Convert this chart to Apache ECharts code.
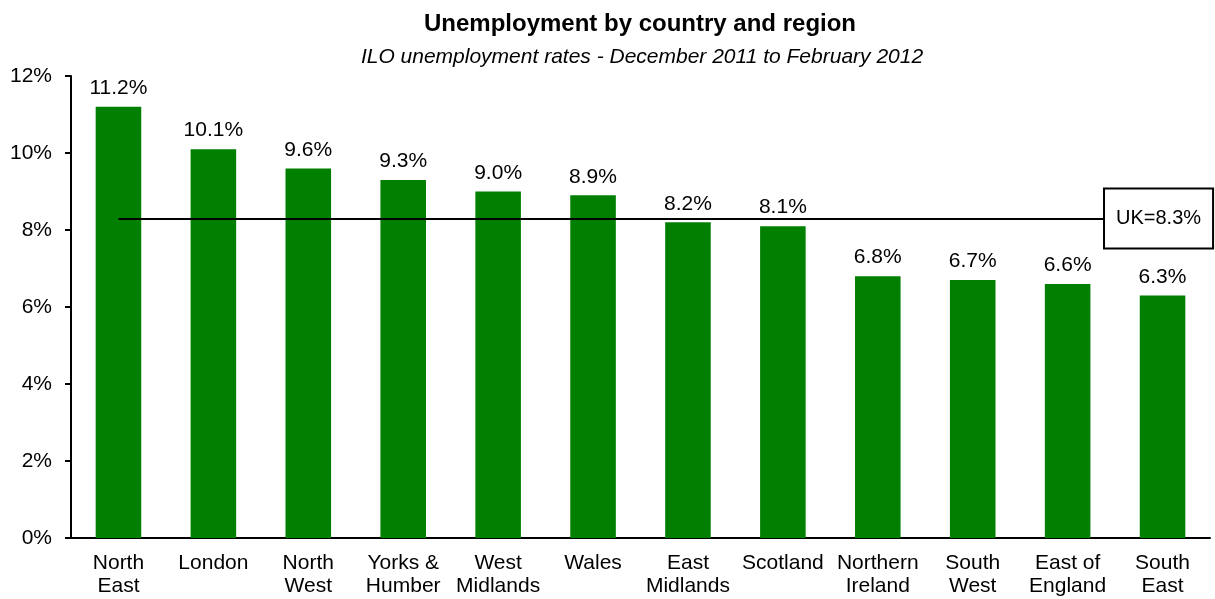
<!DOCTYPE html>
<html><head><meta charset="utf-8">
<script src="https://cdn.jsdelivr.net/npm/echarts@6/dist/echarts.min.js"></script>
<style>html,body{margin:0;padding:0;background:#fff}#c{width:1215px;height:599px}</style>
</head><body><div id="c"></div>
<script>
const categories = ['North\nEast','London','North\nWest','Yorks &\nHumber','West\nMidlands','Wales','East\nMidlands','Scotland','Northern\nIreland','South\nWest','East of\nEngland','South\nEast'];
const rates = [11.2, 10.1, 9.6, 9.3, 9.0, 8.9, 8.2, 8.1, 6.8, 6.7, 6.6, 6.3];
const ukRate = 8.3;
const yTicks = [0, 2, 4, 6, 8, 10, 12];

const font = 'Liberation Sans, Arial, sans-serif';
const chart = echarts.init(document.getElementById('c'));
chart.setOption({
  animation: false,
  title: [
    {text: 'Unemployment by country and region', left: 635, top: 7, textAlign: 'center',
     textStyle: {fontFamily: font, fontSize: 24, fontWeight: 'bold', color: '#000'}},
    {text: 'ILO unemployment rates - December 2011 to February 2012', left: 637, top: 42, textAlign: 'center',
     textStyle: {fontFamily: font, fontSize: 21, fontStyle: 'italic', fontWeight: 'normal', color: '#000'}}
  ],
  grid: {left: 71, right: 5, top: 76, bottom: 61},
  xAxis: {
    type: 'category', data: categories,
    axisLine: {lineStyle: {color: '#000', width: 2}},
    axisTick: {show: false},
    axisLabel: {fontFamily: font, fontSize: 21, color: '#000', lineHeight: 23, margin: 14, interval: 0}
  },
  yAxis: {
    type: 'value', min: yTicks[0], max: yTicks[yTicks.length-1], interval: 2,
    axisLine: {show: true, lineStyle: {color: '#000', width: 2}},
    axisTick: {show: true, length: 6, lineStyle: {color: '#000', width: 2}},
    splitLine: {show: false},
    axisLabel: {fontFamily: font, fontSize: 21, color: '#000', margin: 19, formatter: v => v + '%'}
  },
  series: [{
    type: 'bar', data: rates, barWidth: '48%',
    itemStyle: {color: '#007f00'},
    label: {show: true, position: 'top', distance: 8, fontFamily: font, fontSize: 21, color: '#000',
      formatter: p => p.value.toFixed(1) + '%'},
    markLine: {
      silent: true, symbol: 'none', animation: false,
      lineStyle: {color: '#000', width: 2, type: 'solid'},
      label: {show: false},
      data: [[{coord: [0, ukRate]}, {coord: [categories.length - 1, ukRate]}]]
    },
    markPoint: {
      silent: true, symbol: 'rect', symbolSize: 0, animation: false,
      label: {show: true, position: 'inside', offset: [-4, 0], formatter: 'UK=' + ukRate.toFixed(1) + '%',
        fontFamily: font, fontSize: 20, lineHeight: 20, color: '#000', backgroundColor: '#fff',
        borderColor: '#000', borderWidth: 2, padding: [19, 11, 19, 11]},
      data: [{coord: [categories.length - 1, ukRate]}]
    }
  }]
});
</script></body></html>
